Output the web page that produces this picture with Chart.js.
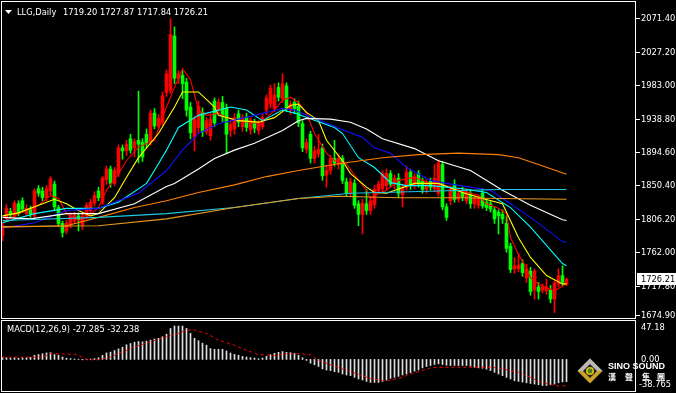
<!DOCTYPE html>
<html>
<head>
<meta charset="utf-8">
<script src="https://cdn.jsdelivr.net/npm/chart.js@4.4.1/dist/chart.umd.min.js"></script>
<style>
  html, body { margin: 0; padding: 0; background: #000; }
  #wrap { position: relative; width: 676px; height: 393px; background: #000; overflow: hidden; }
  #main { position: absolute; left: 0; top: 0; }
  #macd { position: absolute; left: 0; top: 319px; }
</style>
</head>
<body>
<div id="wrap">
  <canvas id="main" width="676" height="319"></canvas>
  <canvas id="macd" width="676" height="74"></canvas>
</div>
<script>
// LLG daily candles (index 0 = oldest bar)
const opens = [
  1784, 1807, 1816, 1810, 1826, 1830, 1813, 1820, 1810, 1846,
  1843, 1834, 1843, 1852, 1821, 1800, 1790, 1798, 1803, 1810,
  1798, 1810, 1817, 1827, 1843, 1828, 1858, 1872, 1853, 1866,
  1900, 1896, 1912, 1900, 1910, 1907, 1918, 1908, 1946, 1929,
  1934, 1973, 1976, 2048, 1992, 1996, 1987, 1954, 1914, 1927,
  1947, 1922, 1916, 1962, 1950, 1960, 1953, 1923, 1925, 1945,
  1928, 1941, 1924, 1934, 1923, 1928, 1950, 1958, 1952, 1980,
  1965, 1982, 1950, 1960, 1955, 1932, 1898, 1918, 1886, 1892,
  1900, 1864, 1870, 1886, 1878, 1886, 1855, 1840, 1853, 1826,
  1812, 1826, 1817, 1825, 1843, 1846, 1850, 1866, 1852, 1860,
  1838, 1848, 1868, 1850, 1866, 1856, 1845, 1856, 1846, 1840,
  1878, 1822, 1830, 1852, 1832, 1842, 1830, 1840, 1826, 1824,
  1840, 1828, 1826, 1818, 1815, 1812, 1800, 1770, 1740, 1740,
  1747, 1728, 1737, 1712, 1716, 1712, 1711, 1712, 1700, 1720,
  1731, 1719.20
];
const highs = [
  1800, 1825, 1820, 1830, 1830, 1834, 1825, 1823, 1846, 1850,
  1848, 1850, 1862, 1856, 1824, 1803, 1804, 1814, 1815, 1814,
  1813, 1827, 1832, 1842, 1848, 1862, 1876, 1876, 1874, 1904,
  1904, 1910, 1918, 1912, 1975, 1912, 1925, 1950, 1952, 1944,
  1974, 2003, 2071, 2060, 2002, 2002, 1992, 1960, 1942, 1962,
  1953, 1940, 1945, 1966, 1965, 1968, 1958, 1936, 1945, 1950,
  1944, 1946, 1940, 1938, 1936, 1945, 1970, 1983, 1985, 1986,
  1998, 1986, 1962, 1965, 1962, 1936, 1912, 1922, 1902, 1918,
  1905, 1877, 1890, 1910, 1892, 1890, 1860, 1860, 1858, 1830,
  1832, 1845, 1835, 1850, 1856, 1870, 1872, 1870, 1864, 1866,
  1852, 1876, 1872, 1866, 1870, 1860, 1858, 1860, 1878, 1884,
  1882, 1826, 1850, 1858, 1845, 1848, 1846, 1845, 1838, 1838,
  1846, 1832, 1830, 1822, 1818, 1818, 1810, 1774, 1755, 1760,
  1752, 1746, 1742, 1740, 1722, 1720, 1726, 1718, 1724, 1740,
  1744, 1727.87
];
const lows = [
  1777, 1804, 1809, 1806, 1810, 1815, 1810, 1808, 1806, 1836,
  1830, 1830, 1838, 1818, 1796, 1782, 1786, 1794, 1800, 1790,
  1792, 1806, 1814, 1823, 1830, 1825, 1852, 1848, 1850, 1862,
  1885, 1890, 1893, 1888, 1880, 1882, 1900, 1904, 1925, 1925,
  1930, 1968, 1972, 1985, 1985, 1965, 1942, 1912, 1896, 1920,
  1915, 1918, 1910, 1928, 1946, 1935, 1892, 1915, 1918, 1928,
  1922, 1922, 1918, 1920, 1918, 1925, 1944, 1953, 1948, 1962,
  1960, 1948, 1944, 1945, 1928, 1895, 1893, 1880, 1880, 1888,
  1857, 1848, 1865, 1876, 1872, 1853, 1836, 1835, 1820, 1797,
  1786, 1812, 1812, 1820, 1840, 1842, 1845, 1848, 1846, 1834,
  1822, 1844, 1845, 1846, 1848, 1840, 1840, 1844, 1842, 1836,
  1818, 1804, 1825, 1828, 1828, 1830, 1826, 1820, 1820, 1820,
  1820, 1817, 1815, 1800, 1786, 1800, 1762, 1735, 1734, 1736,
  1730, 1722, 1705, 1700, 1700, 1708, 1706, 1695, 1682, 1716,
  1718, 1717.84
];
const closes = [
  1797, 1820, 1812, 1827, 1813, 1819, 1820, 1812, 1843, 1840,
  1834, 1846, 1859, 1822, 1800, 1788, 1800, 1810, 1811, 1805,
  1810, 1824, 1828, 1837, 1834, 1860, 1872, 1853, 1870, 1900,
  1896, 1905, 1897, 1908, 1905, 1888, 1905, 1946, 1929, 1939,
  1969, 1998, 2050, 1992, 1998, 1985, 1950, 1920, 1938, 1955,
  1921, 1936, 1938, 1933, 1960, 1943, 1918, 1931, 1940, 1934,
  1940, 1927, 1937, 1926, 1933, 1940, 1966, 1979, 1970, 1967,
  1985, 1953, 1958, 1952, 1933, 1900, 1907, 1886, 1896, 1898,
  1863, 1870, 1886, 1880, 1886, 1857, 1840, 1855, 1824, 1812,
  1827, 1817, 1830, 1845, 1852, 1866, 1866, 1852, 1860, 1840,
  1848, 1868, 1850, 1862, 1852, 1845, 1854, 1848, 1860, 1880,
  1822, 1808, 1845, 1832, 1840, 1835, 1842, 1826, 1833, 1833,
  1823, 1821, 1819, 1806, 1810, 1806, 1767, 1739, 1744, 1745,
  1735, 1740, 1710, 1737, 1710, 1716, 1716, 1700, 1721, 1731,
  1722, 1726.21
];

// moving averages: [bar index, price]
const maRed = [[0,1801],[4,1813],[9,1824],[12,1837],[14,1833],[16,1813],[19,1804],[21,1808],[24,1821],[26,1844],[29,1866],[31,1883],[34,1901],[38,1910],[41,1954],[43,1980],[45,2005],[47,1990],[49,1950],[51,1943],[54,1946],[56,1940],[59,1936],[63,1933],[65,1934],[68,1950],[70,1963],[72,1967],[74,1960],[76,1946],[78,1919],[81,1893],[83,1883],[86,1879],[88,1864],[91,1844],[92,1833],[94,1840],[96,1844],[99,1857],[103,1861],[107,1853],[109,1853],[112,1848],[114,1844],[117,1840],[119,1837],[121,1826],[124,1820],[126,1813],[127,1781],[129,1759],[131,1741],[132,1728],[134,1720],[136,1715],[138,1711],[140,1717],[141,1721]];
const maYellow = [[0,1810],[4,1814],[9,1824],[13,1832],[16,1826],[19,1817],[22,1810],[24,1813],[28,1834],[31,1861],[34,1887],[39,1919],[43,1954],[45,1974],[49,1974],[53,1954],[54,1943],[59,1936],[64,1934],[68,1940],[72,1956],[74,1958],[76,1947],[79,1936],[81,1910],[85,1883],[87,1866],[91,1848],[93,1841],[96,1840],[103,1853],[109,1853],[115,1841],[120,1833],[125,1826],[129,1781],[132,1755],[136,1731],[140,1720],[141,1720]];
const maAqua = [[0,1801],[8,1813],[16,1820],[24,1820],[29,1828],[36,1853],[39,1879],[41,1897],[44,1927],[49,1943],[57,1954],[61,1950],[65,1936],[70,1950],[73,1946],[83,1927],[85,1919],[89,1887],[93,1874],[97,1854],[101,1850],[107,1850],[115,1846],[121,1841],[127,1821],[132,1795],[140,1747],[141,1744]];
const maBlue = [[0,1794],[8,1801],[16,1817],[24,1820],[34,1840],[41,1870],[45,1897],[49,1919],[54,1932],[63,1943],[70,1952],[73,1950],[78,1939],[82,1931],[84,1926],[90,1914],[93,1900],[97,1893],[101,1874],[107,1857],[111,1853],[122,1844],[127,1826],[132,1808],[140,1776],[141,1775]];
const maWhite = [[0,1808],[7,1806],[16,1813],[24,1813],[33,1826],[41,1849],[43,1853],[49,1872],[53,1886],[58,1897],[63,1906],[70,1923],[74,1936],[76,1939],[82,1938],[87,1934],[91,1925],[95,1912],[103,1899],[109,1883],[117,1870],[125,1844],[132,1824],[140,1805],[141,1804]];
const maOrange = [[0,1795],[16,1797],[24,1808],[33,1821],[41,1830],[49,1841],[58,1851],[66,1862],[74,1870],[84,1879],[95,1887],[104,1891],[114,1893],[124,1891],[129,1887],[134,1878],[141,1865]];
const maSky = [[0,1804],[24,1808],[41,1813],[58,1821],[74,1833],[87,1840],[124,1845],[141,1845]];
const maGold = [[0,1796],[24,1797],[41,1806],[58,1821],[74,1833],[84,1836],[99,1834],[115,1834],[124,1833],[141,1832]];

const priceTicks = [2071.40, 2027.20, 1983.00, 1938.80, 1894.60, 1850.40, 1806.20, 1762.00, 1717.80, 1674.90];

// MACD(12,26,9)
const macdValues = [
  2, 2, 1.5, 2, 1.5, 2, 2, 2.5,
  5, 6, 7, 8, 8.3,
  6, 5, 3, 1.5, 1, 0.5,
  0.3, -0.5, 0.3, 0.5, 1, 2,
  5, 8, 9, 11, 13, 15, 18, 19.5, 21, 22, 21.6, 22.4, 23.7, 25, 25.8, 27.8, 31,
  38, 41, 41, 41, 38, 32, 26, 23, 20, 17.5, 13.3, 12.5, 12.5, 12.5, 10.4, 7.9, 6.2,
  5, 3.7, 2.9, 2.1, 1.7, 0.8, 1.7, 3.7, 5.8, 7.5, 8.7, 9.6, 8.7, 8.3, 7.1, 5, 2,
  -1.2, -4.6, -6.6, -8.7, -11.6, -13,
  -13.7, -15, -15.8, -17.9, -19.1, -19.9, -22, -24.1, -25.3, -27, -28.2, -28.2, -28.2, -27, -25.3, -23.3, -22, -20.8,
  -19.1, -17.9, -16.2, -14.5, -12.9, -10.4, -8.7, -7.5, -6.2, -5.4, -6.2, -7.1, -7.5, -7.5, -7.5, -7.5, -7.5,
  -8.3, -9.6, -10.4, -10.8, -12, -13.7, -15.8, -17.9, -19.9, -22, -24.1, -26.2, -27, -27.8, -28.7, -29.5, -30.3, -31.1, -32, -32, -31.1, -30.3, -28.7, -27.6, -27.285
];
const signalPoints = [[0,2.9],[10,2.9],[12,7.1],[18,6.2],[19,5],[21,-0.4],[24,-0.4],[27,2.9],[33,15.4],[37,21.6],[41,27.8],[44,32],[46,36.1],[48,36.1],[51,32],[54,23.7],[58,17.4],[61,11.2],[64,5.8],[68,5],[71,7.1],[74,7.1],[77,5.8],[79,-1.2],[84,-10],[87,-15],[90,-20],[92,-23.5],[95,-26],[97,-25.5],[100,-22],[102,-17.9],[105,-13.7],[107,-10.4],[110,-9.6],[115,-9.6],[122,-9.6],[124,-10.4],[127,-13.7],[129,-15.8],[132,-22],[134,-27],[137,-31.1],[139,-32.6],[141,-32.238]];
const macdTicks = [47.18, 0.00, -38.765];

const UP = "#ff0000";
const DOWN = "#00ff00";
const FONT = "8.3px 'DejaVu Sans'";
// bar i is centred on pixel 2.5 + 4*i, plot runs from x=2 to x=635
const X_MIN = -0.125;
const X_MAX = 158.125;

const candleColors = opens.map((o, i) => (closes[i] >= o ? UP : DOWN));

function maLine(points, color) {
  return {
    type: "line",
    data: points.map(([x, y]) => ({ x, y })),
    borderColor: color,
    borderWidth: 1.1,
    pointRadius: 0,
    fill: false,
    tension: 0,
    order: 1,
  };
}

// frame, right axis labels, header text
const mainFrame = {
  id: "mainFrame",
  afterDraw(chart) {
    const { ctx, chartArea: a, scales } = chart;
    const y = scales.y;
    ctx.save();
    ctx.strokeStyle = "#fff";
    ctx.lineWidth = 1;
    ctx.strokeRect(a.left - 0.5, a.top - 0.5, a.right - a.left + 1, a.bottom - a.top + 1);

    ctx.font = FONT;
    ctx.fillStyle = "#fff";
    ctx.textBaseline = "middle";
    priceTicks.forEach((v, i) => {
      let py = Math.round(y.getPixelForValue(v));
      if (i === priceTicks.length - 1) py = a.bottom - 3;
      ctx.beginPath();
      ctx.moveTo(a.right + 1, py + 0.5);
      ctx.lineTo(a.right + 5, py + 0.5);
      ctx.stroke();
      ctx.fillText(v.toFixed(2), 641, py + 0.5);
    });

    // last price box
    const last = closes[closes.length - 1];
    const lp = Math.round(y.getPixelForValue(last));
    ctx.fillStyle = "#fff";
    ctx.fillRect(637, lp - 6, 39, 12);
    ctx.fillStyle = "#000";
    ctx.fillText(last.toFixed(2), 641, lp + 0.5);

    // header
    ctx.fillStyle = "#fff";
    ctx.beginPath();
    ctx.moveTo(5, 10);
    ctx.lineTo(12, 10);
    ctx.lineTo(8.5, 14);
    ctx.closePath();
    ctx.fill();
    ctx.fillText("LLG,Daily", 17, 12.5);
    const n = opens.length - 1;
    ctx.fillText([opens[n], highs[n], lows[n], closes[n]].map(v => v.toFixed(2)).join(" "), 63, 12.5);
    ctx.restore();
  },
};

new Chart(document.getElementById("main"), {
  type: "bar",
  data: {
    datasets: [
      maLine(maGold, "#e89a1c"),
      maLine(maSky, "#1ec8e6"),
      maLine(maOrange, "#ff8000"),
      maLine(maWhite, "#ffffff"),
      maLine(maBlue, "#1010ff"),
      maLine(maAqua, "#00ffff"),
      maLine(maYellow, "#ffff00"),
      maLine(maRed, "#ff0000"),
      {
        // wicks
        data: opens.map((o, i) => ({ x: i, y: [lows[i], highs[i]] })),
        backgroundColor: candleColors,
        barThickness: 1,
        minBarLength: 1,
        grouped: false,
        order: 3,
      },
      {
        // bodies
        data: opens.map((o, i) => ({ x: i, y: [o, closes[i]] })),
        backgroundColor: candleColors,
        barThickness: 3,
        minBarLength: 1,
        grouped: false,
        order: 2,
      },
    ],
  },
  options: {
    responsive: false,
    animation: false,
    layout: { padding: { left: 2, right: 41, top: 2, bottom: 1 } },
    plugins: { legend: { display: false }, tooltip: { enabled: false } },
    scales: {
      x: { type: "linear", min: X_MIN, max: X_MAX, offset: false, display: false },
      y: { min: 1674.9, max: 2093.0, display: false },
    },
  },
  plugins: [mainFrame],
});

// MACD panel frame, labels and logo
const macdFrame = {
  id: "macdFrame",
  afterDraw(chart) {
    const { ctx, chartArea: a, scales } = chart;
    const y = scales.y;
    ctx.save();
    ctx.strokeStyle = "#fff";
    ctx.lineWidth = 1;
    ctx.strokeRect(a.left - 0.5, a.top - 0.5, a.right - a.left + 1, a.bottom - a.top + 1);

    ctx.font = FONT;
    ctx.fillStyle = "#fff";
    ctx.textBaseline = "middle";
    const n = macdValues.length - 1;
    const sig = signalPoints[signalPoints.length - 1][1];
    ctx.fillText("MACD(12,26,9) " + macdValues[n].toFixed(3) + " " + sig.toFixed(3), 7, 10.5);

    macdTicks.forEach((v, i) => {
      let py = y.getPixelForValue(v);
      if (i === 0) py = a.top + 6;
      if (i === macdTicks.length - 1) py = a.bottom - 7;
      const txt = i === macdTicks.length - 1 ? v.toFixed(3) : v.toFixed(2);
      ctx.fillText(txt, i === macdTicks.length - 1 ? 639 : 641, Math.round(py) + 0.5);
    });

    // Sino Sound logo
    const cx = 590, cy = 52, r = 12.5;
    ctx.fillStyle = "#c9a227";
    ctx.beginPath();
    ctx.moveTo(cx, cy - r); ctx.lineTo(cx + r, cy); ctx.lineTo(cx, cy + r); ctx.lineTo(cx - r, cy);
    ctx.closePath(); ctx.fill();
    ctx.fillStyle = "#b8b8b8";
    ctx.beginPath();
    ctx.moveTo(cx, cy - r); ctx.lineTo(cx + r, cy); ctx.lineTo(cx - r, cy);
    ctx.closePath(); ctx.fill();
    ctx.fillStyle = "#222";
    ctx.beginPath();
    ctx.moveTo(cx, cy - 7); ctx.lineTo(cx + 7, cy); ctx.lineTo(cx, cy + 7); ctx.lineTo(cx - 7, cy);
    ctx.closePath(); ctx.fill();
    ctx.fillStyle = "#d8c21a";
    ctx.beginPath(); ctx.arc(cx, cy, 4, 0, Math.PI * 2); ctx.fill();
    ctx.fillStyle = "#4d7a1a";
    ctx.beginPath(); ctx.arc(cx, cy, 2.4, 0, Math.PI * 2); ctx.fill();

    ctx.fillStyle = "#fff";
    ctx.font = "bold 9px 'Liberation Sans'";
    ctx.fillText("SINO SOUND", 608, 47.5);
    ctx.font = "bold 8px 'Noto Sans CJK TC'";
    ["漢", "聲", "集", "團"].forEach((c, k) => ctx.fillText(c, [608, 625, 642, 657][k], 57.5));
    ctx.restore();
  },
};

new Chart(document.getElementById("macd"), {
  type: "bar",
  data: {
    datasets: [
      {
        type: "line",
        data: signalPoints.map(([x, y]) => ({ x, y })),
        borderColor: "#ff0000",
        borderWidth: 1,
        borderDash: [3, 3],
        pointRadius: 0,
        fill: false,
        tension: 0,
        order: 1,
      },
      {
        data: macdValues.map((v, i) => ({ x: i, y: v })),
        backgroundColor: "#e0e0e0",
        barThickness: 1,
        grouped: false,
        order: 2,
      },
    ],
  },
  options: {
    responsive: false,
    animation: false,
    layout: { padding: { left: 2, right: 41, top: 2, bottom: 2 } },
    plugins: { legend: { display: false }, tooltip: { enabled: false } },
    scales: {
      x: { type: "linear", min: X_MIN, max: X_MAX, offset: false, display: false },
      y: { min: -38.765, max: 47.18, display: false },
    },
  },
  plugins: [macdFrame],
});
</script>
</body>
</html>
